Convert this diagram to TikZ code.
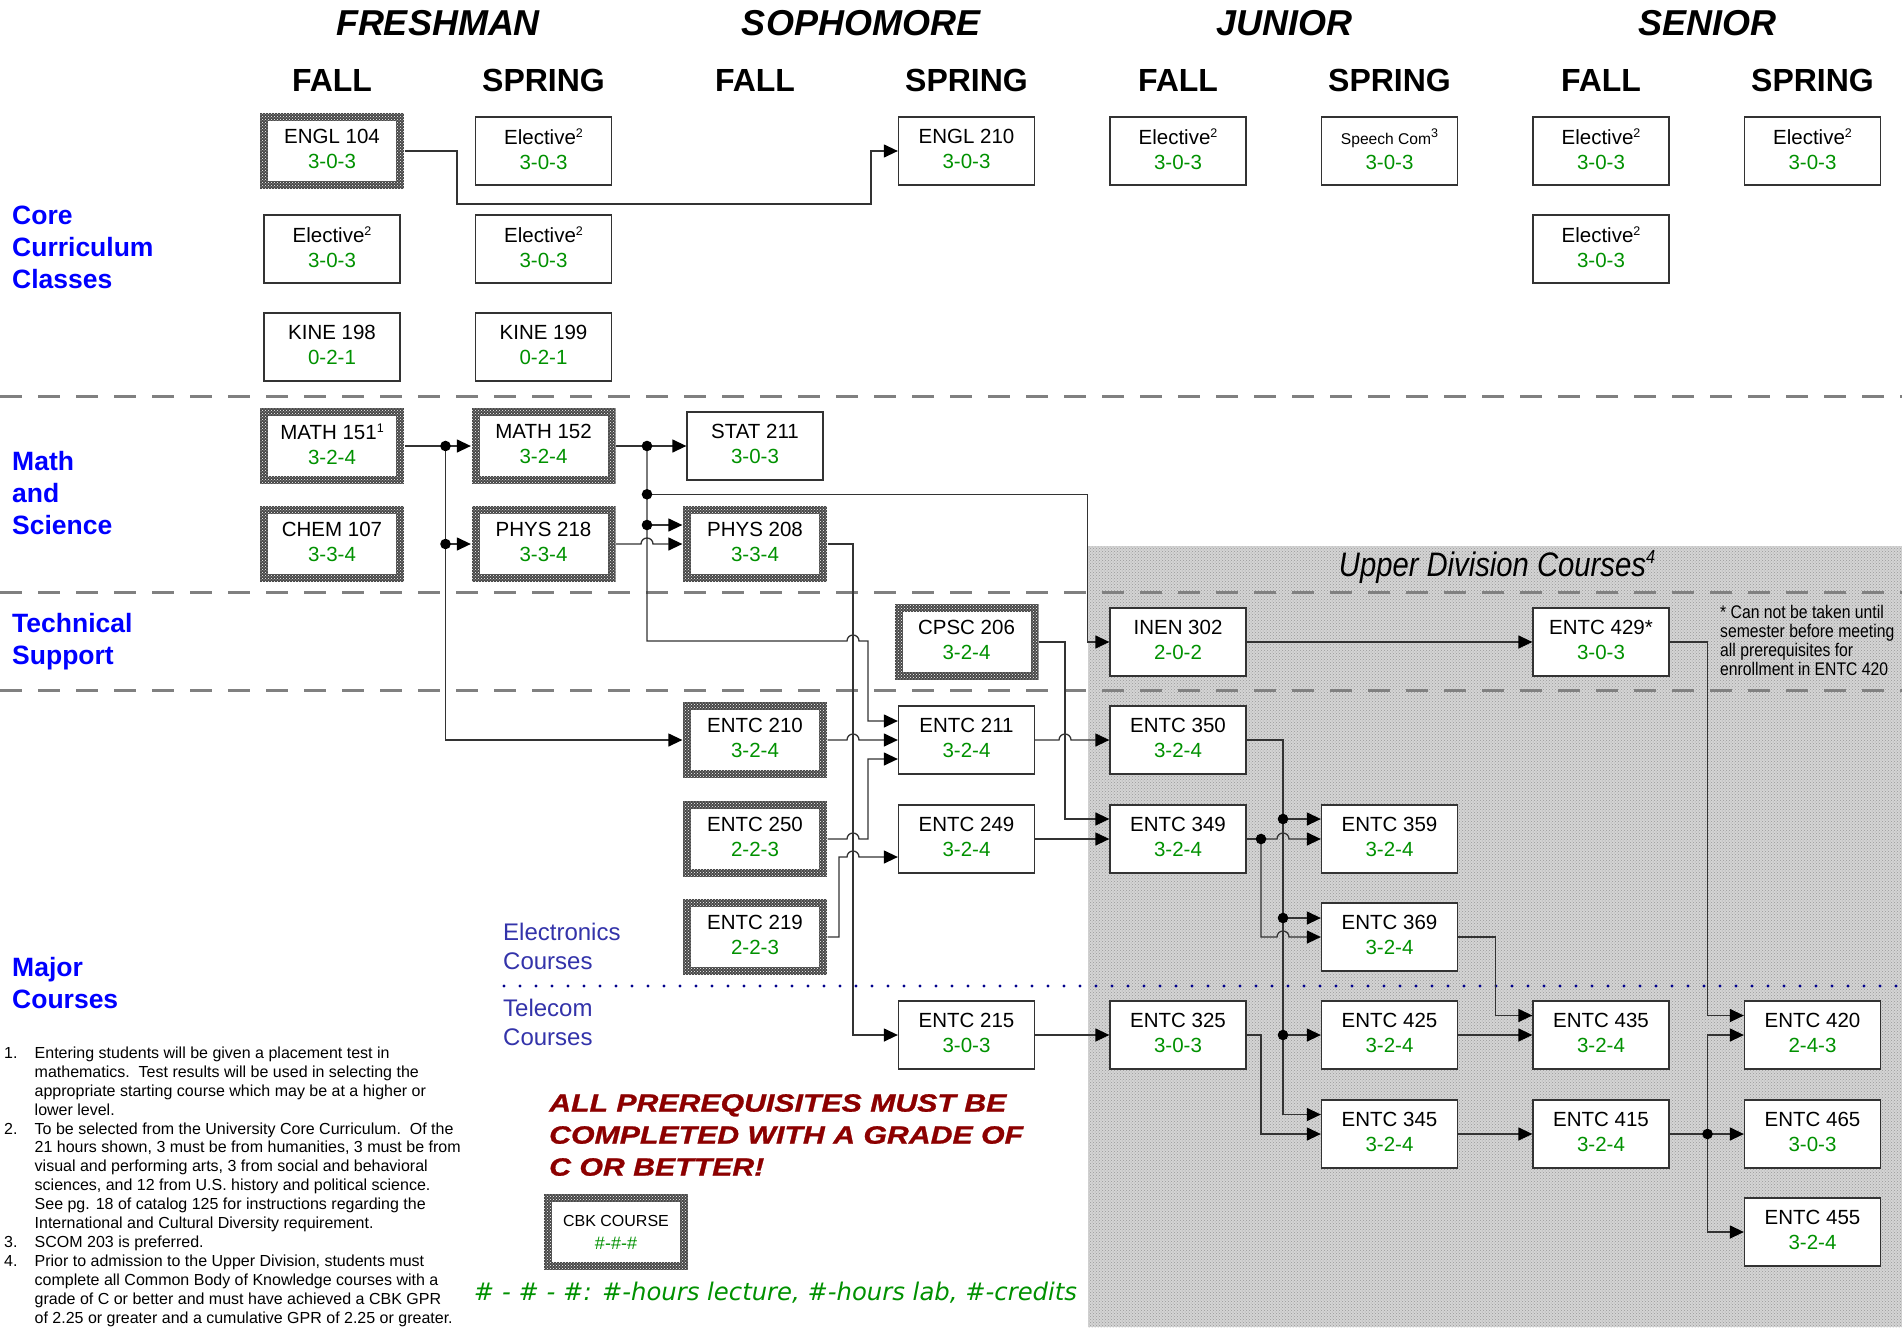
\documentclass[tikz,border=0pt]{standalone}
\usepackage{fontspec}
\setmainfont{Liberation Sans}
\newfontfamily\narrowfont[FakeStretch=0.86]{Liberation Sans}
\newfontfamily\widefont[FakeStretch=1.21,FakeBold=1]{Liberation Sans}
\newfontfamily\verafont{DejaVu Sans}
\usepackage{xcolor}
\usetikzlibrary{arrows.meta}
\usetikzlibrary{patterns}
\usetikzlibrary{calc}

\definecolor{hrsgreen}{RGB}{0,145,0}
\definecolor{catblue}{RGB}{0,0,255}
\definecolor{trackblue}{RGB}{51,51,170}
\definecolor{dotblue}{RGB}{0,0,140}
\definecolor{warnred}{RGB}{140,0,0}

\newcommand{\hrs}[1]{\textcolor{hrsgreen}{#1}\rule[-4pt]{0pt}{1pt}}
\newcommand{\sups}[1]{\raisebox{7pt}{\fontsize{12.5pt}{12.5pt}\selectfont #1}}
\newcommand{\elec}{Elective\sups{2}}

\begin{document}
\begin{tikzpicture}[x=1pt,y=-1pt,
  every node/.style={inner sep=0pt},
  box/.style={draw=black!80, line width=1.3pt, fill=white, minimum width=136pt,
    minimum height=68pt, align=center, font=\fontsize{20.5pt}{25pt}\selectfont},
  cbk/.style={box, draw=none, minimum width=144pt, minimum height=76pt,
    path picture={
      \fill[black!72] (path picture bounding box.south west) rectangle (path picture bounding box.north east);
      \fill[pattern=crosshatch dots, pattern color=white] (path picture bounding box.south west) rectangle (path picture bounding box.north east);
      \fill[white] ($(path picture bounding box.south west)+(8,-8)$) rectangle ($(path picture bounding box.north east)+(-8,8)$);
    }},
  wire/.style={draw=black!80, line width=1.3pt},
  feed/.style={wire, -{Triangle[length=14pt,width=13pt,color=black]}},
  hop/.style={insert path={arc[start angle=180,end angle=360,radius=6]}},
  sepline/.style={draw=black!50, line width=2.5pt, dash pattern=on 22pt off 16pt},
  yearhd/.style={font=\bfseries\itshape\fontsize{36pt}{40pt}\selectfont},
  termhd/.style={font=\bfseries\fontsize{32pt}{36pt}\selectfont},
  catlabel/.style={anchor=west, align=left, text=catblue, font=\bfseries\fontsize{26.5pt}{32pt}\selectfont},
  tracklabel/.style={anchor=west, align=left, text=trackblue, font=\fontsize{24pt}{29pt}\selectfont}]

\useasboundingbox (0,0) rectangle (1902,1327);
\fill[white] (0,0) rectangle (1902,1327);

% upper division area
\fill[black!17] (1088,546) rectangle (1902,1327);
\fill[pattern=crosshatch dots, pattern color=black!40] (1088,546) rectangle (1902,1327);
\node[font=\narrowfont\itshape\fontsize{34pt}{40pt}\selectfont] (updiv) at (1497,567) {Upper Division Courses\raisebox{13pt}{\fontsize{19pt}{19pt}\selectfont 4}};

% separators
\draw[sepline] (0,396.5) -- (1902,396.5);
\draw[sepline] (0,592.5) -- (1902,592.5);
\draw[sepline] (0,690.7) -- (1902,690.7);
\draw[dotblue, line width=3.2pt, line cap=round, dash pattern=on 0pt off 16pt] (504,986) -- (1902,986);

% headings
\node[yearhd] (fresh) at (438,23) {FRESHMAN};
\node[yearhd] (soph) at (861,23) {SOPHOMORE};
\node[yearhd] (junior) at (1284,23) {JUNIOR};
\node[yearhd] (senior) at (1707,23) {SENIOR};
\node[termhd] (t1) at (332,80.5) {FALL};
\node[termhd] (t2) at (543.5,80.5) {SPRING};
\node[termhd] (t3) at (755,80.5) {FALL};
\node[termhd] (t4) at (966.5,80.5) {SPRING};
\node[termhd] (t5) at (1178,80.5) {FALL};
\node[termhd] (t6) at (1389.5,80.5) {SPRING};
\node[termhd] (t7) at (1601,80.5) {FALL};
\node[termhd] (t8) at (1812.5,80.5) {SPRING};

% row labels
\node[catlabel] (corelbl) at (12,247) {Core\\Curriculum\\Classes};
\node[catlabel] (mathlbl) at (12,493.5) {Math\\and\\Science};
\node[catlabel] (techlbl) at (12,642) {Technical\\Support};
\node[catlabel] (majorlbl) at (12,983.5) {Major\\Courses};
\node[tracklabel] (eleclbl) at (503,946.5) {Electronics\\Courses};
\node[tracklabel] (tellbl) at (503,1022.5) {Telecom\\Courses};

% core curriculum
\node[cbk] (engl104) at (332,151) {ENGL 104\\\hrs{3-0-3}};
\node[box] (elec12) at (543.5,151) {\elec\\\hrs{3-0-3}};
\node[box] (engl210) at (966.5,151) {ENGL 210\\\hrs{3-0-3}};
\node[box] (elec31) at (1178,151) {\elec\\\hrs{3-0-3}};
\node[box] (speech) at (1389.5,151) {{\fontsize{15.6pt}{15.6pt}\selectfont Speech Com}\sups{3}\\\hrs{3-0-3}};
\node[box] (elec41) at (1601,151) {\elec\\\hrs{3-0-3}};
\node[box] (elec42) at (1812.5,151) {\elec\\\hrs{3-0-3}};
\node[box] (elec11) at (332,249) {\elec\\\hrs{3-0-3}};
\node[box] (elec22) at (543.5,249) {\elec\\\hrs{3-0-3}};
\node[box] (elec43) at (1601,249) {\elec\\\hrs{3-0-3}};
\node[box] (kine198) at (332,347) {KINE 198\\\hrs{0-2-1}};
\node[box] (kine199) at (543.5,347) {KINE 199\\\hrs{0-2-1}};

% math and science
\node[cbk] (math151) at (332,446) {MATH 151\sups{1}\\\hrs{3-2-4}};
\node[cbk] (math152) at (543.5,446) {MATH 152\\\hrs{3-2-4}};
\node[box] (stat211) at (755,446) {STAT 211\\\hrs{3-0-3}};
\node[cbk] (chem107) at (332,544) {CHEM 107\\\hrs{3-3-4}};
\node[cbk] (phys218) at (543.5,544) {PHYS 218\\\hrs{3-3-4}};
\node[cbk] (phys208) at (755,544) {PHYS 208\\\hrs{3-3-4}};

% technical support
\node[cbk] (cpsc206) at (966.5,642) {CPSC 206\\\hrs{3-2-4}};
\node[box] (inen302) at (1178,642) {INEN 302\\\hrs{2-0-2}};
\node[box] (entc429) at (1601,642) {ENTC 429*\\\hrs{3-0-3}};
\node[anchor=north west, align=left, font=\narrowfont\fontsize{18.3pt}{19pt}\selectfont] (note429) at (1720,604.6) {* Can not be taken until\\semester before meeting\\all prerequisites for\\enrollment in ENTC 420};

% major courses
\node[cbk] (entc210) at (755,740) {ENTC 210\\\hrs{3-2-4}};
\node[box] (entc211) at (966.5,740) {ENTC 211\\\hrs{3-2-4}};
\node[box] (entc350) at (1178,740) {ENTC 350\\\hrs{3-2-4}};
\node[cbk] (entc250) at (755,839) {ENTC 250\\\hrs{2-2-3}};
\node[box] (entc249) at (966.5,839) {ENTC 249\\\hrs{3-2-4}};
\node[box] (entc349) at (1178,839) {ENTC 349\\\hrs{3-2-4}};
\node[box] (entc359) at (1389.5,839) {ENTC 359\\\hrs{3-2-4}};
\node[cbk] (entc219) at (755,937) {ENTC 219\\\hrs{2-2-3}};
\node[box] (entc369) at (1389.5,937) {ENTC 369\\\hrs{3-2-4}};
\node[box] (entc215) at (966.5,1035) {ENTC 215\\\hrs{3-0-3}};
\node[box] (entc325) at (1178,1035) {ENTC 325\\\hrs{3-0-3}};
\node[box] (entc425) at (1389.5,1035) {ENTC 425\\\hrs{3-2-4}};
\node[box] (entc435) at (1601,1035) {ENTC 435\\\hrs{3-2-4}};
\node[box] (entc420) at (1812.5,1035) {ENTC 420\\\hrs{2-4-3}};
\node[box] (entc345) at (1389.5,1134) {ENTC 345\\\hrs{3-2-4}};
\node[box] (entc415) at (1601,1134) {ENTC 415\\\hrs{3-2-4}};
\node[box] (entc465) at (1812.5,1134) {ENTC 465\\\hrs{3-0-3}};
\node[box] (entc455) at (1812.5,1232) {ENTC 455\\\hrs{3-2-4}};

% legend and notes
\node[anchor=west, align=left, text=warnred, font=\widefont\bfseries\itshape\fontsize{25pt}{32pt}\selectfont] (warn) at (549,1135) {ALL PREREQUISITES MUST BE\\COMPLETED WITH A GRADE OF\\C OR BETTER!};
\node[cbk, font=\fontsize{16pt}{23pt}\selectfont] (cbkkey) at (616,1232) {CBK COURSE\\\textcolor{hrsgreen}{\fontsize{18pt}{23pt}\selectfont\#-\#-\#}};
\node[text=hrsgreen, font=\verafont\itshape\fontsize{24.3pt}{29pt}\selectfont] (hrskey) at (775.5,1293) {\# - \# - \#: \#-hours lecture, \#-hours lab, \#-credits};
\node[anchor=north west, font=\fontsize{16pt}{18.9pt}\selectfont] (notes) at (4,1045) {%
\begin{tabular}{@{}p{30.5pt}@{}l@{}}
1. & Entering students will be given a placement test in\\
 & mathematics.\ \ Test results will be used in selecting the\\
 & appropriate starting course which may be at a higher or\\
 & lower level.\\
2. & To be selected from the University Core Curriculum.\ \ Of the\\
 & 21 hours shown, 3 must be from humanities, 3 must be from\\
 & visual and performing arts, 3 from social and behavioral\\
 & sciences, and 12 from U.S. history and political science.\\
 & See pg. 18 of catalog 125 for instructions regarding the\\
 & International and Cultural Diversity requirement.\\
3. & SCOM 203 is preferred.\\
4. & Prior to admission to the Upper Division, students must\\
 & complete all Common Body of Knowledge courses with a\\
 & grade of C or better and must have achieved a CBK GPR\\
 & of 2.25 or greater and a cumulative GPR of 2.25 or greater.
\end{tabular}};

% prerequisite lines
\draw[feed] (engl104.east) -- (457,151) |- (871,204) |- (engl210.west);

\coordinate (m1) at (445.5,446);
\coordinate (m2) at (445.5,544);
\draw[wire] (math151.east) -- (m1);
\draw[feed] (m1) -- (math152.west);
\draw[feed] (m1) |- (entc210.west);
\draw[feed] (m2) -- (phys218.west);
\fill[black] (m1) circle (5.3pt);
\fill[black] (m2) circle (5.3pt);

\coordinate (s1) at (647,446);
\coordinate (s2) at (647,494.3);
\coordinate (s3) at (647,525);
\draw[wire] (math152.east) -- (s1);
\draw[feed] (s1) -- (stat211.west);
\draw[feed] (s2) -| (1087.5,642) -- (inen302.west);
\draw[feed] (s3) -- ($(phys208.west)+(0,-19)$);
\draw[feed] (s1) -- (647,641) -- (847,641) [hop] -- (868,641) |- ($(entc211.west)+(0,-19)$);
\fill[black] (s1) circle (5.3pt);
\fill[black] (s2) circle (5.3pt);
\fill[black] (s3) circle (5.3pt);
\draw[feed] (phys218.east) -- (641,544) [hop] -- (phys208.west);

\draw[feed] (phys208.east) -- (853,544) |- (entc215.west);
\draw[feed] (entc210.east) -- (847,740) [hop] -- (entc211.west);
\draw[feed] (entc250.east) -- (847,839) [hop] -- (868,839) |- ($(entc211.west)+(0,19)$);
\draw[feed] (entc219.east) -- (839,937) -- (839,857) -- (847,857) [hop] -- ($(entc249.west)+(0,18)$);

\draw[feed] (cpsc206.east) -- (1065,642) |- ($(entc349.west)+(0,-20)$);
\draw[feed] (entc211.east) -- (1059,740) [hop] -- (entc350.west);
\draw[feed] (entc249.east) -- (entc349.west);
\draw[feed] (inen302.east) -- (entc429.west);
\draw[feed] (entc215.east) -- (entc325.west);

\coordinate (u1) at (1283,819);
\coordinate (u2) at (1283,918);
\coordinate (u3) at (1283,1035);
\draw[feed] (entc350.east) -| (1283,1114.5) -- ($(entc345.west)+(0,-19.5)$);
\draw[feed] (u1) -- ($(entc359.west)+(0,-20)$);
\draw[feed] (u2) -- ($(entc369.west)+(0,-19)$);
\draw[feed] (u3) -- (entc425.west);
\fill[black] (u1) circle (5.3pt);
\fill[black] (u2) circle (5.3pt);
\fill[black] (u3) circle (5.3pt);

\coordinate (v1) at (1261,839);
\draw[wire] (entc349.east) -- (v1);
\draw[feed] (v1) -- (1277,839) [hop] -- (entc359.west);
\draw[feed] (v1) -- (1261,937) -- (1277,937) [hop] -- (entc369.west);
\fill[black] (v1) circle (5.3pt);
\draw[feed] (entc325.east) -- (1261,1035) |- (entc345.west);

\draw[feed] (entc369.east) -- (1495.5,937) |- ($(entc435.west)+(0,-19.5)$);
\draw[feed] (entc425.east) -- (entc435.west);
\draw[feed] (entc429.east) -- (1707.5,642) |- ($(entc420.west)+(0,-19.5)$);
\draw[feed] (entc345.east) -- (entc415.west);

\coordinate (w1) at (1707.5,1134);
\draw[wire] (entc415.east) -- (w1);
\draw[feed] (w1) -- (entc465.west);
\draw[feed] (w1) |- (entc420.west);
\draw[feed] (w1) |- (entc455.west);
\fill[black] (w1) circle (5.3pt);

\end{tikzpicture}
\end{document}
